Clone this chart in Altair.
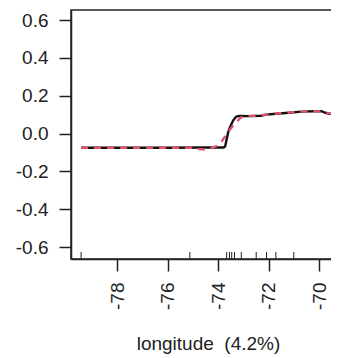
import altair as alt
import pandas as pd

# Partial dependence (black, solid)
pd_x = [-79.43, -76.0, -74.6, -73.78, -73.72, -73.66, -73.60, -73.53, -73.40, -73.28, -73.15,
        -72.8, -72.30, -72.10, -71.7, -71.2, -70.7, -70.2, -69.9, -69.75, -69.6, -69.37]
pd_y = [-0.075, -0.075, -0.074, -0.074, -0.068, -0.03, 0.007, 0.033, 0.07, 0.09, 0.093,
        0.092, 0.094, 0.100, 0.105, 0.110, 0.116, 0.118, 0.118, 0.110, 0.105, 0.104]

# Smoothed (red, dashed)
sm_x = [-79.43, -75.0, -74.8, -74.5, -74.3, -74.0, -73.85, -73.65, -73.45, -73.3, -73.1,
        -72.9, -72.4, -72.1, -71.7, -71.2, -70.7, -70.2, -69.9, -69.7, -69.37]
sm_y = [-0.075, -0.075, -0.082, -0.085, -0.078, -0.063, -0.04, 0.0, 0.035, 0.058, 0.085,
        0.091, 0.095, 0.100, 0.106, 0.111, 0.116, 0.118, 0.117, 0.108, 0.104]

# Rug (deciles of longitude)
rug_x = [-79.43, -75.12, -73.66, -73.55, -73.46, -73.35, -73.08, -72.49, -72.08, -71.71, -71.0, -69.37]

x_ticks = [-78, -76, -74, -72, -70]
y_ticks = [-0.6, -0.4, -0.2, 0.0, 0.2, 0.4, 0.6]
x_title = "longitude \u00a0(4.2%)"

x_dom = [-79.83, -68.97]
y_dom = [-0.663, 0.653]

df_pd = pd.DataFrame({"x": pd_x, "y": pd_y})
df_sm = pd.DataFrame({"x": sm_x, "y": sm_y})
df_rug = pd.DataFrame({"x": rug_x})

FONT = "Liberation Sans"
INK = "#222222"

xscale = alt.Scale(domain=x_dom, nice=False, zero=False)
yscale = alt.Scale(domain=y_dom, nice=False, zero=False)

xaxis = alt.Axis(values=x_ticks, title=x_title, labelAngle=270, labelAlign="right",
                 labelBaseline="middle", tickSize=12, labelPadding=11,
                 labelExpr="toString(datum.value)", grid=False,
                 titleY=90, titleBaseline="alphabetic")
yaxis = alt.Axis(values=y_ticks, title=None, tickSize=12, labelPadding=11,
                 labelExpr="datum.value == 0 ? '0.0' : toString(datum.value)", grid=False)

black = alt.Chart(df_pd).mark_line(color="#111111", strokeWidth=2.4).encode(
    x=alt.X("x:Q", scale=xscale, axis=xaxis),
    y=alt.Y("y:Q", scale=yscale, axis=yaxis),
)
red = alt.Chart(df_sm).mark_line(color="#E0536D", strokeWidth=2.4, strokeDash=[7, 6]).encode(
    x=alt.X("x:Q", scale=xscale),
    y=alt.Y("y:Q", scale=yscale),
)
rug = alt.Chart(df_rug).mark_rule(color=INK, strokeWidth=1).encode(
    x=alt.X("x:Q", scale=xscale),
    y=alt.value(242),
    y2=alt.value(249),
)

chart = alt.layer(black, red, rug).properties(
    width=274, height=249,
    background="white",
    autosize=alt.AutoSizeParams(type="none"),
    padding={"left": 63, "top": 2, "right": -14, "bottom": 97},
).configure_view(
    stroke=INK, strokeWidth=1.5
).configure_axis(
    labelFont=FONT, titleFont=FONT, labelFontSize=19, titleFontSize=19,
    labelColor=INK, titleColor=INK, domainColor=INK, tickColor=INK,
    domainWidth=1.5, tickWidth=1.5, titleFontWeight="normal",
)

chart.save("out.html", embed_options={"renderer": "svg", "actions": False})
